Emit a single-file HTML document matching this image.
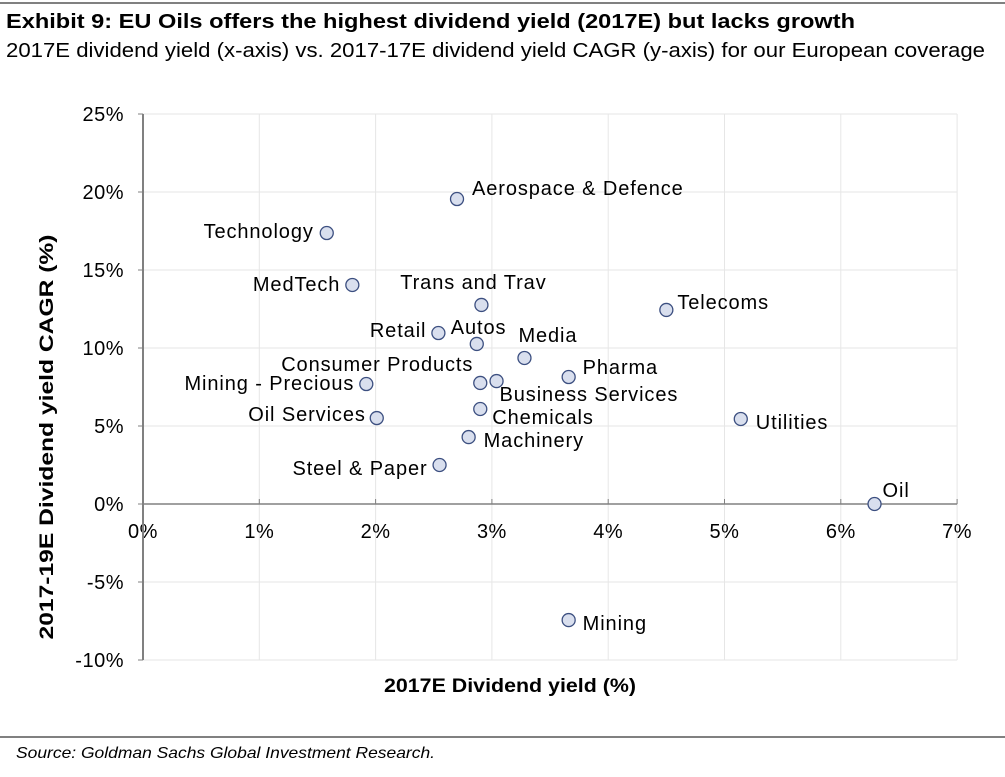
<!DOCTYPE html>
<html><head><meta charset="utf-8"><style>
body{margin:0;background:#fff;width:1005px;height:772px;overflow:hidden;font-family:"Liberation Sans",Arial,sans-serif}
text{font-family:"Liberation Sans",Arial,sans-serif}
</style></head><body>
<svg id="c" width="1005" height="772" xmlns="http://www.w3.org/2000/svg">
<line x1="0" y1="3" x2="1005" y2="3" stroke="#000" stroke-width="1"/>
<text x="6" y="28" font-size="20" font-weight="bold" textLength="849" lengthAdjust="spacingAndGlyphs">Exhibit 9: EU Oils offers the highest dividend yield (2017E) but lacks growth</text>
<text x="6" y="57" font-size="20" textLength="979" lengthAdjust="spacingAndGlyphs">2017E dividend yield (x-axis) vs. 2017-17E dividend yield CAGR (y-axis) for our European coverage</text>
<g id="grid"></g>
<g id="axes"></g>
<g id="pts"></g>
<text x="510" y="692" font-size="19" font-weight="bold" text-anchor="middle" textLength="252" lengthAdjust="spacingAndGlyphs">2017E Dividend yield (%)</text>
<text transform="translate(53,437) rotate(-90)" font-size="19" font-weight="bold" text-anchor="middle" textLength="405" lengthAdjust="spacingAndGlyphs">2017-19E Dividend yield CAGR (%)</text>
<line x1="0" y1="737" x2="1005" y2="737" stroke="#000" stroke-width="1"/>
<text x="16" y="758" font-size="16" font-style="italic" textLength="419" lengthAdjust="spacingAndGlyphs">Source: Goldman Sachs Global Investment Research.</text>
</svg>
<script>
const names=["Aerospace & Defence","Technology","MedTech","Trans and Trav","Telecoms","Retail","Autos","Media","Consumer Products","Business Services","Pharma","Mining - Precious","Chemicals","Oil Services","Utilities","Machinery","Steel & Paper","Oil","Mining"];
const xVals=[2.70,1.58,1.80,2.91,4.50,2.54,2.87,3.28,2.90,3.04,3.66,1.92,2.90,2.01,5.14,2.80,2.55,6.29,3.66];
const yVals=[19.55,17.37,14.04,12.76,12.44,10.96,10.26,9.36,7.76,7.88,8.14,7.69,6.09,5.51,5.45,4.29,2.50,0.0,-7.44];
const xTicks=[0,1,2,3,4,5,6,7];
const yTicks=[25,20,15,10,5,0,-5,-10];
const labelOff=[[15,-11,"start"],[-13,-2,"end"],[-12,-1,"end"],[-8,-23,"middle"],[11,-8,"start"],[-12,-3,"end"],[-26,-17,"start"],[-6,-23,"start"],[-7,-19,"end"],[3,13,"start"],[14,-10,"start"],[-12,-1,"end"],[12,8,"start"],[-11,-4,"end"],[15,3,"start"],[15,3,"start"],[-12,3,"end"],[8,-14,"start"],[14,3,"start"]];
const X=v=>143+v*116.3, Y=v=>504-v*15.6;
const NS="http://www.w3.org/2000/svg";
function mk(p,t,a){const e=document.createElementNS(NS,t);for(const k in a)e.setAttribute(k,a[k]);p.appendChild(e);return e;}
const g=document.getElementById('grid'),ax=document.getElementById('axes'),pts=document.getElementById('pts');
xTicks.forEach(t=>{if(t>0){const l=mk(g,'line',{x1:X(t),x2:X(t),y1:Y(25),y2:Y(-10),stroke:'#e6e6e6'});

}
const tk=mk(ax,'line',{x1:X(t),x2:X(t),y1:Y(0)-5,y2:Y(0),stroke:'#808080'});


const tx=mk(ax,'text',{x:X(t),y:Y(0)+34,'font-size':20,'text-anchor':'middle','letter-spacing':0.5});tx.textContent=t+'%';

});
yTicks.forEach(t=>{if(t!==0){const l=mk(g,'line',{x1:X(0),x2:X(7),y1:Y(t),y2:Y(t),stroke:'#e6e6e6'});

}
const tk=mk(ax,'line',{x1:X(0)-5,x2:X(0),y1:Y(t),y2:Y(t),stroke:'#808080'});


const tx=mk(ax,'text',{x:124,y:Y(t)+7,'font-size':20,'text-anchor':'end','letter-spacing':0.5});tx.textContent=t+'%';

});
const xa=mk(ax,'line',{x1:X(0),x2:X(7),y1:Y(0),y2:Y(0),stroke:'#808080','stroke-width':1.5});


const ya=mk(ax,'line',{x1:X(0),x2:X(0),y1:Y(25),y2:Y(-10),stroke:'#808080','stroke-width':2});


names.forEach((n,i)=>{const cx=X(xVals[i]),cy=Y(yVals[i]);
const c=mk(pts,'circle',{cx:cx,cy:cy,r:6.5,fill:'#d9dfee',stroke:'#3c4f80','stroke-width':1.3});


const o=labelOff[i];const t=mk(pts,'text',{x:cx+o[0],y:cy+o[1]+7,'font-size':20,'letter-spacing':0.9,'text-anchor':o[2]});t.textContent=n;

});
</script>
</body></html>
